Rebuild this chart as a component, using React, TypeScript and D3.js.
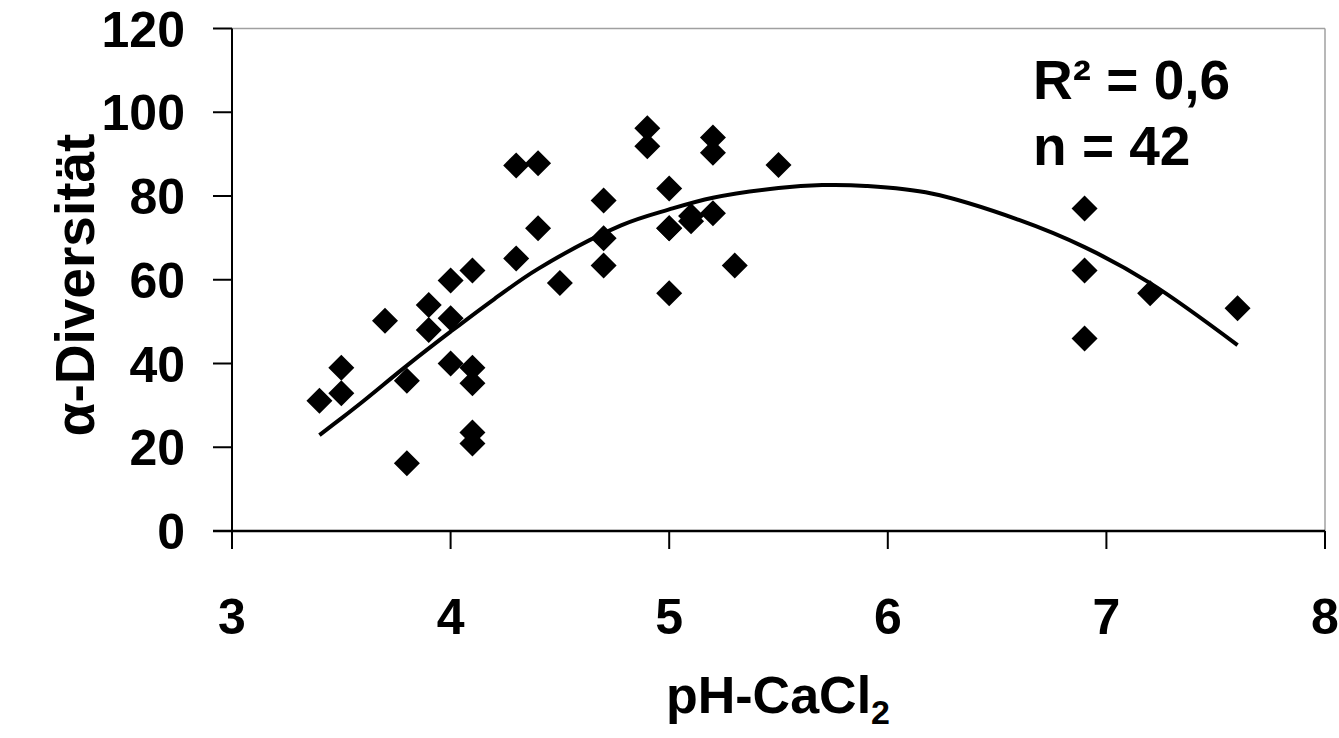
import React from "react";
import * as d3 from "d3";

const phValues: number[] = [
  3.4, 3.5, 3.5, 3.7, 3.8, 3.8, 3.9, 3.9, 4.0, 4.0, 4.0,
  4.1, 4.1, 4.1, 4.1, 4.1, 4.3, 4.3, 4.4, 4.4, 4.5,
  4.7, 4.7, 4.7, 4.9, 4.9, 5.0, 5.0, 5.0, 5.0,
  5.1, 5.1, 5.2, 5.2, 5.2, 5.3, 5.5,
  6.9, 6.9, 6.9, 7.2, 7.6,
];
const diversityValues: number[] = [
  31.1, 39.0, 32.9, 50.2, 35.9, 16.2, 54.0, 48.0, 59.8, 50.8, 40.0,
  62.2, 39.0, 35.3, 23.5, 20.9, 87.3, 65.1, 87.8, 72.3, 59.2,
  78.9, 69.9, 63.4, 96.2, 91.9, 81.8, 72.3, 72.3, 56.8,
  75.2, 74.0, 94.0, 90.3, 75.9, 63.4, 87.4,
  77.0, 62.2, 46.0, 56.8, 53.2,
];

// trend curve
const trendX: number[] = [3.4, 3.5, 3.6, 3.8, 4.0, 4.2, 4.4, 4.78, 5.0, 5.2, 5.5, 5.7, 5.9, 6.2, 6.6, 6.9, 7.2, 7.6];
const trendY: number[] = [22.9, 26.9, 31.0, 39.5, 47.6, 55.4, 62.6, 73.0, 76.8, 79.6, 81.9, 82.6, 82.4, 80.6, 74.3, 67.8, 59.2, 44.4];

const xTicks: number[] = [3, 4, 5, 6, 7, 8];
const yTicks: number[] = [0, 20, 40, 60, 80, 100, 120];

const FONT = "'Liberation Sans', Arial, Helvetica, sans-serif";

export default function App() {
  const W = 1339, H = 738;
  const left = 232, right = 1325, top = 28.5, bottom = 531;
  const x = d3.scaleLinear().domain([3, 8]).range([left, right]);
  const y = d3.scaleLinear().domain([0, 120]).range([bottom, top]);

  const line = d3
    .line<number>()
    .x((_, i) => x(trendX[i]))
    .y((d) => y(d))
    .curve(d3.curveCatmullRom.alpha(0.5));

  const r = 13;
  const diamond = `M0,${-r}L${r},0L0,${r}L${-r},0Z`;

  return (
    <svg
      width={W}
      height={H}
      style={{ position: "absolute", left: 0, top: 0, background: "#fff" }}
      fontFamily={FONT}
      fontWeight="bold"
    >
      <rect width={W} height={H} fill="#fff" />
      {/* plot border (top, right) */}
      <line x1={left} x2={right} y1={top} y2={top} stroke="#a0a0a0" strokeWidth={1.5} />
      <line x1={right} x2={right} y1={top} y2={bottom} stroke="#a0a0a0" strokeWidth={1.5} />
      {/* y axis */}
      <line x1={left} x2={left} y1={top} y2={bottom + 18} stroke="#000" strokeWidth={2} />
      {yTicks.map((t) => (
        <g key={"yt" + t}>
          <line x1={213} x2={left} y1={y(t)} y2={y(t)} stroke="#000" strokeWidth={2} />
          <text x={185} y={y(t)} dy="0.36em" textAnchor="end" fontSize={50}>
            {t}
          </text>
        </g>
      ))}
      {/* x axis */}
      <line x1={213} x2={right} y1={bottom} y2={bottom} stroke="#000" strokeWidth={2.5} />
      {xTicks.map((t) => (
        <g key={"xt" + t}>
          <line x1={x(t)} x2={x(t)} y1={bottom} y2={bottom + 18} stroke="#000" strokeWidth={2} />
          <text x={x(t)} y={634} textAnchor="middle" fontSize={50}>
            {t}
          </text>
        </g>
      ))}
      {/* trend */}
      <path d={line(trendY) || ""} fill="none" stroke="#000" strokeWidth={4} strokeLinejoin="round" />
      {/* points */}
      {phValues.map((p, i) => (
        <path key={"p" + i} d={diamond} transform={`translate(${x(p)},${y(diversityValues[i])})`} fill="#000" />
      ))}
      {/* annotations */}
      <text x={1033} y={99} fontSize={55}>
        R² = 0,6
      </text>
      <text x={1033} y={165} fontSize={55}>
        n = 42
      </text>
      {/* axis titles */}
      <text x={778} y={713} textAnchor="middle" fontSize={52}>
        pH-CaCl<tspan fontSize={34} dy="11">2</tspan>
      </text>
      <text transform="translate(94,285) rotate(-90)" textAnchor="middle" fontSize={55}>
        α-Diversität
      </text>
    </svg>
  );
}
